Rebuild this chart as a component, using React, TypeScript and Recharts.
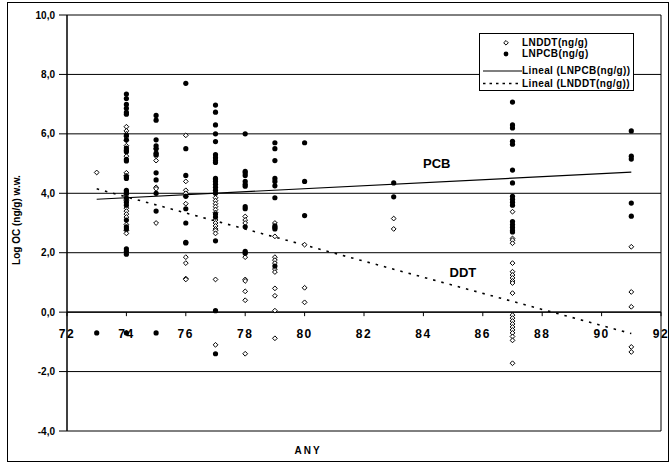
import React from 'react';
import { ScatterChart, Scatter, XAxis, YAxis, CartesianGrid, ReferenceLine, ReferenceDot } from 'recharts';

// LNDDT (open markers) per year
const ddt73 = [4.7];
const ddt74 = [6.24, 6.1, 6.0, 5.9, 5.78, 5.6, 5.25, 4.69, 4.6, 3.95, 3.8, 3.75, 3.5, 3.4, 3.3, 3.2, 2.95, 2.75, 2.65, -0.7];
const ddt75 = [5.5, 5.25, 5.1, 4.2, 4.15, 3.0];
const ddt76 = [5.95, 4.4, 4.1, 4.0, 3.9, 3.65, 1.85, 1.65, 1.13, 1.1];
const ddt77 = [4.45, 3.85, 3.75, 3.65, 3.55, 3.45, 3.35, 3.1, 3.0, 2.9, 2.8, 2.75, 2.65, 1.1, -1.1];
const ddt78 = [3.22, 3.1, 3.0, 1.85, 1.1, 1.05, 0.7, 0.4, -1.4];
const ddt79 = [3.0, 2.55, 1.85, 1.75, 1.65, 1.45, 1.35, 0.8, 0.55, 0.05, -0.88];
const ddt80 = [2.27, 0.82, 0.33];
const ddt83 = [3.15, 2.8];
const ddt87 = [3.38, 2.48, 2.42, 2.32, 1.65, 1.36, 1.25, 1.15, 1.05, 0.98, 0.64, -0.1, -0.2, -0.3, -0.4, -0.5, -0.6, -0.7, -0.82, -0.95, -1.72];
const ddt91 = [2.2, 0.68, 0.18, -1.17, -1.34];

// LNPCB (filled markers) per year
const pcb73 = [-0.7];
const pcb74 = [7.34, 7.19, 6.99, 6.86, 6.72, 6.66, 5.95, 5.8, 5.52, 5.45, 5.4, 5.14, 5.09, 4.56, 4.5, 4.1, 4.05, 4.0, 3.85, 3.7, 3.6, 3.1, 2.87, 2.8, 2.13, 2.05, 1.95, -0.7];
const pcb75 = [6.62, 6.46, 5.8, 5.6, 5.5, 5.35, 5.3, 4.69, 4.45, 4.0, 3.4, -0.7];
const pcb76 = [7.7, 5.5, 4.6, 3.9, 3.48, 3.0, 2.35, 2.33];
const pcb77 = [6.97, 6.73, 6.3, 6.0, 5.74, 5.3, 5.2, 5.1, 5.04, 4.5, 4.4, 4.3, 4.2, 4.1, 4.0, 3.3, 3.2, 2.4, 0.05, -1.4];
const pcb78 = [6.0, 4.74, 4.68, 4.6, 4.4, 4.3, 4.24, 3.55, 3.48, 2.87, 2.05, 1.98];
const pcb79 = [5.7, 5.5, 5.1, 4.5, 4.4, 4.25, 3.85, 2.9, 2.85, 2.8, 1.55];
const pcb80 = [5.7, 4.4, 3.25];
const pcb83 = [4.35, 3.88];
const pcb87 = [7.07, 6.3, 6.2, 5.75, 5.65, 4.78, 4.35, 3.9, 3.8, 3.7, 3.6, 3.05, 2.95, 2.85, 2.75, 2.7];
const pcb91 = [6.1, 5.25, 5.15, 3.67, 3.23];

const years = [73, 74, 75, 76, 77, 78, 79, 80, 83, 87, 91];
const ddtGroups = [ddt73, ddt74, ddt75, ddt76, ddt77, ddt78, ddt79, ddt80, ddt83, ddt87, ddt91];
const pcbGroups = [pcb73, pcb74, pcb75, pcb76, pcb77, pcb78, pcb79, pcb80, pcb83, pcb87, pcb91];

// Linear trend endpoints
const trendX = [73, 91];
const pcbTrendY = [3.8, 4.71];
const ddtTrendY = [4.15, -0.72];

const xTicks = [72, 74, 76, 78, 80, 82, 84, 86, 88, 90, 92];
const yTicks = [-4, -2, 0, 2, 4, 6, 8, 10];

const toPoints = (groups: number[][]) =>
  groups.flatMap((vals, i) => vals.map((v) => ({ x: years[i], y: v })));

const ddtData = toPoints(ddtGroups);
const pcbData = toPoints(pcbGroups);
const pcbTrend = trendX.map((x, i) => ({ x, y: pcbTrendY[i] }));
const ddtTrend = trendX.map((x, i) => ({ x, y: ddtTrendY[i] }));
const xTickData = xTicks.map((x) => ({ x, y: 0 }));

const FONT = 'Arial, "Liberation Sans", sans-serif';

const OpenMarker = (p: any) => {
  const { cx, cy } = p;
  const s = 2.4;
  return (
    <polygon
      points={`${cx},${cy - s} ${cx + s},${cy} ${cx},${cy + s} ${cx - s},${cy}`}
      fill="#fff"
      stroke="#000"
      strokeWidth={1}
    />
  );
};

const FilledMarker = (p: any) => <circle cx={p.cx} cy={p.cy} r={2.6} fill="#000" />;

const NoMarker = () => <g />;

const XTick = (p: any) => {
  const { cx, cy, payload } = p;
  return (
    <g>
      <line x1={cx} y1={cy} x2={cx} y2={cy + 4} stroke="#000" strokeWidth={1} />
      <text
        x={cx}
        y={cy + 26}
        textAnchor="middle"
        fontFamily={FONT}
        fontWeight="bold"
        fontSize={12}
        letterSpacing={1.5}
        fill="#000"
      >
        {payload.x}
      </text>
    </g>
  );
};

const fmt = (v: number) => v.toFixed(1).replace('.', ',');

export default function App() {
  return (
    <div style={{ position: 'absolute', left: 0, top: 0, width: 671, height: 465, background: '#fff' }}>
      <div
        style={{
          position: 'absolute',
          left: 7,
          top: 2,
          width: 662,
          height: 460,
          border: '1px solid #000',
          boxSizing: 'border-box',
        }}
      />
      <div style={{ position: 'absolute', left: 0, top: 0 }}>
        <ScatterChart width={671} height={465} margin={{ top: 15, right: 10, bottom: 34, left: 7 }}>
          <CartesianGrid horizontal vertical={false} stroke="#000" strokeWidth={1} />
          <XAxis type="number" dataKey="x" domain={[72, 92]} ticks={xTicks} hide />
          <YAxis
            type="number"
            dataKey="y"
            domain={[-4, 10]}
            ticks={yTicks}
            width={60}
            tickFormatter={fmt}
            axisLine={{ stroke: '#000', strokeWidth: 1.5 }}
            tickLine={{ stroke: '#000' }}
            tickSize={8}
            tickMargin={4}
            tick={{ fontFamily: FONT, fontWeight: 'bold', fontSize: 10, fill: '#000' }}
          />
          <ReferenceLine x={92} stroke="#000" strokeWidth={1} />
          <ReferenceLine y={0} stroke="#000" strokeWidth={1.2} />
          <Scatter data={xTickData} shape={XTick} isAnimationActive={false} />
          <Scatter
            data={pcbTrend}
            line={{ stroke: '#000', strokeWidth: 1.2 }}
            shape={NoMarker}
            isAnimationActive={false}
          />
          <Scatter
            data={ddtTrend}
            line={{ stroke: '#000', strokeWidth: 1.6, strokeDasharray: '2.5 6' }}
            shape={NoMarker}
            isAnimationActive={false}
          />
          <Scatter data={ddtData} shape={OpenMarker} isAnimationActive={false} />
          <Scatter data={pcbData} shape={FilledMarker} isAnimationActive={false} />
          <ReferenceDot
            x={84.45}
            y={5.02}
            r={0}
            stroke="none"
            fill="none"
            label={{ value: 'PCB', position: 'center', fontFamily: FONT, fontWeight: 'bold', fontSize: 13, fill: '#000' }}
          />
          <ReferenceDot
            x={85.33}
            y={1.35}
            r={0}
            stroke="none"
            fill="none"
            label={{ value: 'DDT', position: 'center', fontFamily: FONT, fontWeight: 'bold', fontSize: 13, fill: '#000' }}
          />
        </ScatterChart>
      </div>
      {/* Y axis title */}
      <div
        style={{
          position: 'absolute',
          left: 16,
          top: 220,
          transform: 'translate(-50%, -50%) rotate(-90deg)',
          fontFamily: FONT,
          fontWeight: 'bold',
          fontSize: 10,
          whiteSpace: 'nowrap',
          color: '#000',
        }}
      >
        Log OC (ng/g) w.w.
      </div>
      {/* X axis title */}
      <div
        style={{
          position: 'absolute',
          left: 308,
          top: 450,
          transform: 'translate(-50%, -50%)',
          fontFamily: FONT,
          fontWeight: 'bold',
          fontSize: 10,
          letterSpacing: 2,
          whiteSpace: 'nowrap',
          color: '#000',
        }}
      >
        ANY
      </div>
      {/* Legend */}
      <div
        style={{
          position: 'absolute',
          left: 479,
          top: 33,
          width: 155,
          height: 58,
          border: '1px solid #000',
          boxSizing: 'border-box',
          background: '#fff',
        }}
      >
        <svg width={153} height={56} style={{ position: 'absolute', left: 0, top: 0 }}>
          <polygon points="26,6.5 28.3,8.8 26,11.1 23.7,8.8" fill="#fff" stroke="#000" strokeWidth={1} />
          <circle cx={26} cy={20} r={2.4} fill="#000" />
          <line x1={3} y1={37} x2={42} y2={37} stroke="#000" strokeWidth={1.2} />
          <line x1={3} y1={49.5} x2={42} y2={49.5} stroke="#000" strokeWidth={1.6} strokeDasharray="2.5 4" />
        </svg>
        {[
          { t: 'LNDDT(ng/g)', y: 9 },
          { t: 'LNPCB(ng/g)', y: 20 },
          { t: 'Lineal (LNPCB(ng/g))', y: 37 },
          { t: 'Lineal (LNDDT(ng/g))', y: 49.5 },
        ].map((r) => (
          <div
            key={r.t}
            style={{
              position: 'absolute',
              left: 42,
              top: r.y - 7,
              height: 14,
              lineHeight: '14px',
              fontFamily: FONT,
              fontWeight: 'bold',
              fontSize: 10,
              letterSpacing: 0.4,
              whiteSpace: 'nowrap',
              color: '#000',
            }}
          >
            {r.t}
          </div>
        ))}
      </div>
    </div>
  );
}
